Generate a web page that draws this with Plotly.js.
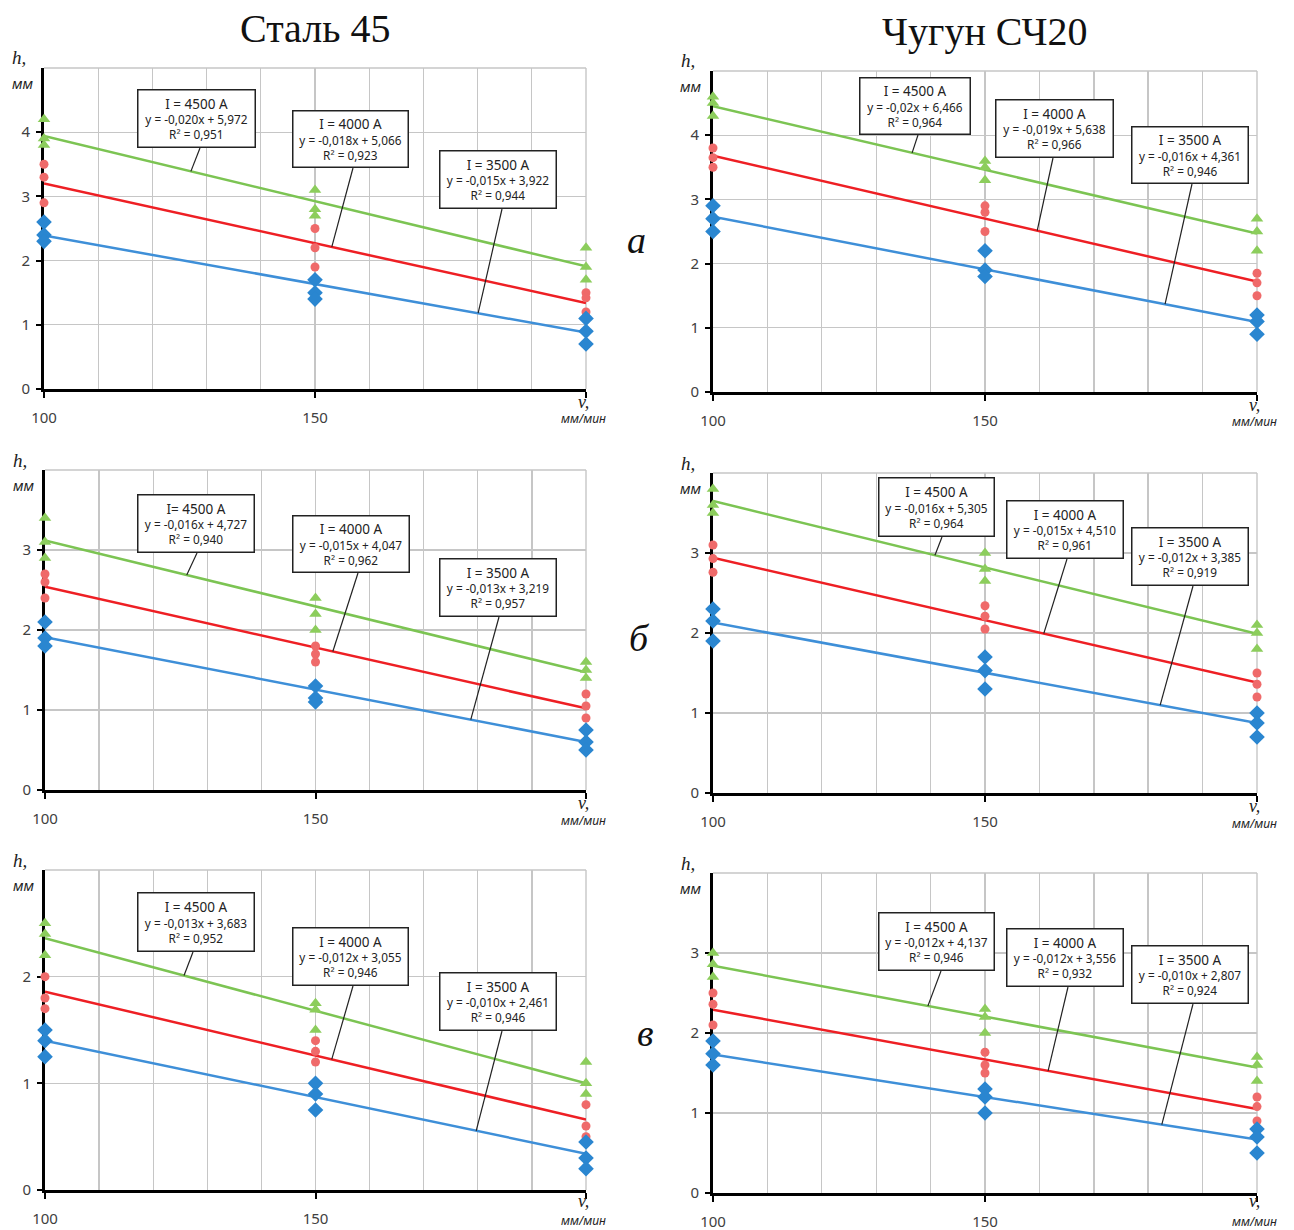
<!DOCTYPE html>
<html><head><meta charset="utf-8">
<script src="https://cdn.plot.ly/plotly-3.0.1.min.js"></script>
<style>html,body{margin:0;padding:0;background:#fff}#chart{width:1294px;height:1230px}</style>
</head><body><div id="chart"></div>
<script>
// ---------------- DATA ----------------
const xPts = [100,100,100,150,150,150,200,200,200];   // v, мм/мин
const trendX = [100, 200];
const currentLabels = ['I = 4500 A', 'I = 4000 A', 'I = 3500 A'];

// Сталь 45, а
const steelA_4500 = [4.2,3.9,3.8, 3.1,2.8,2.7, 2.2,1.9,1.7];
const steelA_4000 = [3.5,3.3,2.9, 2.5,2.2,1.9, 1.5,1.42,1.2];
const steelA_3500 = [2.6,2.4,2.3, 1.7,1.5,1.4, 1.1,0.9,0.7];
const steelA_trend = [[3.94,1.91],[3.20,1.34],[2.39,0.88]];
const steelA_eq = ['y = -0,020x + 5,972','y = -0,018x + 5,066','y = -0,015x + 3,922'];
const steelA_r2 = ['0,951','0,923','0,944'];

// Чугун СЧ20, а
const castA_4500 = [4.6,4.5,4.3, 3.6,3.5,3.3, 2.7,2.5,2.2];
const castA_4000 = [3.8,3.65,3.5, 2.9,2.8,2.5, 1.85,1.7,1.5];
const castA_3500 = [2.9,2.7,2.5, 2.2,1.9,1.8, 1.2,1.1,0.9];
const castA_trend = [[4.45,2.47],[3.68,1.72],[2.73,1.09]];
const castA_eq = ['y = -0,02x + 6,466','y = -0,019x + 5,638','y = -0,016x + 4,361'];
const castA_r2 = ['0,964','0,966','0,946'];

// Сталь 45, б
const steelB_4500 = [3.4,3.1,2.9, 2.4,2.2,2.0, 1.6,1.5,1.4];
const steelB_4000 = [2.7,2.6,2.4, 1.8,1.7,1.6, 1.2,1.05,0.9];
const steelB_3500 = [2.1,1.9,1.8, 1.3,1.15,1.1, 0.75,0.6,0.5];
const steelB_trend = [[3.12,1.47],[2.54,1.02],[1.91,0.60]];
const steelB_eq = ['y = -0,016x + 4,727','y = -0,015x + 4,047','y = -0,013x + 3,219'];
const steelB_r2 = ['0,940','0,962','0,957'];

// Чугун СЧ20, б
const castB_4500 = [3.8,3.6,3.5, 3.0,2.8,2.65, 2.1,2.0,1.8];
const castB_4000 = [3.1,2.93,2.76, 2.34,2.21,2.05, 1.5,1.36,1.2];
const castB_3500 = [2.3,2.15,1.9, 1.7,1.53,1.3, 1.0,0.875,0.7];
const castB_trend = [[3.65,1.99],[2.94,1.38],[2.13,0.875]];
const castB_eq = ['y = -0,016x + 5,305','y = -0,015x + 4,510','y = -0,012x + 3,385'];
const castB_r2 = ['0,964','0,961','0,919'];

// Сталь 45, в
const steelV_4500 = [2.5,2.4,2.2, 1.75,1.69,1.5, 1.2,1.0,0.9];
const steelV_4000 = [2.0,1.8,1.7, 1.4,1.3,1.2, 0.8,0.6,0.5];
const steelV_3500 = [1.5,1.4,1.25, 1.0,0.9,0.75, 0.45,0.3,0.2];
const steelV_trend = [[2.36,1.00],[1.86,0.66],[1.40,0.34]];
const steelV_eq = ['y = -0,013x + 3,683','y = -0,012x + 3,055','y = -0,010x + 2,461'];
const steelV_r2 = ['0,952','0,946','0,946'];

// Чугун СЧ20, в
const castV_4500 = [3.0,2.86,2.7, 2.3,2.2,2.0, 1.7,1.6,1.4];
const castV_4000 = [2.5,2.36,2.1, 1.76,1.6,1.5, 1.2,1.08,0.9];
const castV_3500 = [1.9,1.74,1.6, 1.3,1.2,1.0, 0.8,0.7,0.5];
const castV_trend = [[2.84,1.57],[2.29,1.05],[1.73,0.67]];
const castV_eq = ['y = -0,012x + 4,137','y = -0,012x + 3,556','y = -0,010x + 2,807'];
const castV_r2 = ['0,946','0,932','0,924'];

const yMax = [5, 5, 4, 4, 3, 4];

// ---------------- LAYOUT / STYLE ----------------
const W = 1294, H = 1230;
const lineColors = ['#7cc453', '#ee1f24', '#3e8fd8'];
const markColors = ['#8ccd5c', '#ef6a6a', '#2a86d0'];
const symbols = ['triangle-up', 'circle', 'diamond'];
const msizes = [11, 9, 12];
const gridColor = '#c6c6c6';
const numFont = '"Noto Sans", "Open Sans", sans-serif';
const serif = '"Liberation Serif", "DejaVu Serif", serif';

// panel pixel frames [left, top, right, bottom]
const frames = [[44,68,586,389],[713,71,1257,392],[45,470,586,790],[713,473,1257,793],[45,870,586,1190],[713,873,1257,1193]];
// annotation boxes [left, top, right, bottom]
const boxes = [
  [[137,89,256,148],[292,110,409,168],[439,150,557,209]],
  [[859,77,971,135],[995,99,1114,158],[1131,126,1249,184]],
  [[137,494,255,553],[292,515,410,573],[439,558,557,617]],
  [[878,477,995,537],[1006,500,1124,559],[1131,527,1249,586]],
  [[137,892,255,952],[292,927,409,986],[439,972,557,1031]],
  [[878,912,995,971],[1006,928,1124,987],[1131,945,1249,1004]]
];
// leader start x (px, at box bottom) and leader target on the trend line (x in data units)
const leadStart = [[200,353,502],[918,1053,1192],[197,358,499],[942,1067,1193],[193,353,502],[941,1068,1193]];
const leadTarget = [[127.1,153.1,180.1],[136.6,159.6,183.1],[126.2,153.2,178.7],[140.8,160.8,182.2],[125.7,153.0,179.7],[139.5,161.6,182.5]];

const panelSeries = [
  [steelA_4500, steelA_4000, steelA_3500],
  [castA_4500, castA_4000, castA_3500],
  [steelB_4500, steelB_4000, steelB_3500],
  [castB_4500, castB_4000, castB_3500],
  [steelV_4500, steelV_4000, steelV_3500],
  [castV_4500, castV_4000, castV_3500]
];
const panelTrends = [steelA_trend, castA_trend, steelB_trend, castB_trend, steelV_trend, castV_trend];
const panelEqs = [steelA_eq, castA_eq, steelB_eq, castB_eq, steelV_eq, castV_eq];
const panelR2 = [steelA_r2, castA_r2, steelB_r2, castB_r2, steelV_r2, castV_r2];

const traces = [];
const layout = {
  width: W, height: H, margin: {l:0, r:0, t:0, b:0},
  paper_bgcolor: '#fff', plot_bgcolor: '#fff', showlegend: false,
  annotations: [], shapes: []
};
const px2x = p => p / W, px2y = p => 1 - p / H;

frames.forEach((f, i) => {
  const n = i === 0 ? '' : String(i + 1);
  const xa = 'x' + n, ya = 'y' + n;
  const [l, t, r, b] = f;
  const ym = yMax[i];
  const yt = []; for (let k = 0; k < ym; k++) yt.push(k);
  layout['xaxis' + n] = {
    domain: [px2x(l), px2x(r)], anchor: ya, range: [100, 200],
    tickmode: 'array', tickvals: [100,150,200], ticktext: ['100','150',''],
    showline: true, linecolor: '#000', linewidth: 3,
    ticks: 'outside', ticklen: 6, tickwidth: 2, tickcolor: '#000',
    showgrid: true, gridcolor: gridColor, gridwidth: 1.4, zeroline: false,
    minor: {tickmode: 'linear', tick0: 100, dtick: 10, showgrid: true, gridcolor: gridColor, gridwidth: 1.4, ticks: ''},
    tickfont: {family: numFont, size: 15, color: '#404040'}, ticklabelstandoff: 7,
    layer: 'below traces', fixedrange: true
  };
  layout['yaxis' + n] = {
    domain: [px2y(b), px2y(t)], anchor: xa, range: [0, ym],
    tickmode: 'array', tickvals: yt,
    showline: true, linecolor: '#000', linewidth: 3,
    ticks: 'outside', ticklen: 5, tickwidth: 2, tickcolor: '#000',
    showgrid: true, gridcolor: gridColor, gridwidth: 1.4, zeroline: false,
    tickfont: {family: numFont, size: 15, color: '#404040'}, ticklabelstandoff: 3,
    layer: 'below traces', fixedrange: true
  };
  // frame top/right grid lines
  layout.shapes.push({type:'line', xref: xa + ' domain', yref: ya + ' domain', x0:0, x1:1, y0:1, y1:1, line:{color: gridColor, width: 1.4}, layer:'below'});
  layout.shapes.push({type:'line', xref: xa + ' domain', yref: ya + ' domain', x0:1, x1:1, y0:0, y1:1, line:{color: gridColor, width: 1.4}, layer:'below'});

  for (let s = 0; s < 3; s++) {
    traces.push({x: trendX, y: panelTrends[i][s], xaxis: xa, yaxis: ya, mode: 'lines',
      line: {color: lineColors[s], width: 2.5}, hoverinfo: 'skip', cliponaxis: false});
  }
  for (let s = 0; s < 3; s++) {
    traces.push({x: xPts, y: panelSeries[i][s], xaxis: xa, yaxis: ya, mode: 'markers',
      marker: {symbol: symbols[s], size: msizes[s], color: markColors[s]}, cliponaxis: false});
  }

  // equation boxes + leaders
  for (let s = 0; s < 3; s++) {
    const bx = boxes[i][s];
    const lbl = (i === 2 && s === 0) ? 'I= 4500 A' : currentLabels[s];
    layout.annotations.push({
      xref: 'paper', yref: 'paper', x: px2x((bx[0]+bx[2])/2), y: px2y((bx[1]+bx[3])/2),
      xanchor: 'center', yanchor: 'middle', showarrow: false,
      width: bx[2]-bx[0]-5, height: bx[3]-bx[1]-5, borderpad: 1, borderwidth: 1.5,
      bordercolor: '#222', bgcolor: '#fff',
      text: '<span style="font-size:13.5px">' + lbl + '</span><br>' + panelEqs[i][s] + '<br>R² = ' + panelR2[i][s],
      font: {family: numFont, size: 11.8, color: '#222'}
    });
    const tx = leadTarget[i][s];
    const tr = panelTrends[i][s];
    const ty = tr[0] + (tr[1]-tr[0]) * (tx - 100) / 100;
    const ex = l + (tx - 100) / 100 * (r - l);
    const ey = b - ty / ym * (b - t);
    layout.shapes.push({type:'line', xref:'paper', yref:'paper',
      x0: px2x(leadStart[i][s]), y0: px2y(bx[3]), x1: px2x(ex), y1: px2y(ey),
      line: {color: '#222', width: 1.2}});
  }

  // axis titles
  layout.annotations.push({xref:'paper', yref:'paper', x: px2x(l-25), y: px2y(t-10), xanchor:'center', yanchor:'middle', showarrow:false,
    text:'<i>h,</i>', font:{family: serif, size:19, color:'#222'}});
  layout.annotations.push({xref:'paper', yref:'paper', x: px2x(l-22), y: px2y(t+15), xanchor:'center', yanchor:'middle', showarrow:false,
    text:'<i>мм</i>', font:{family:numFont, size:14, color:'#222'}});
  layout.annotations.push({xref:'paper', yref:'paper', x: px2x(r-3), y: px2y(Math.min(b+13, 1201)), xanchor:'center', yanchor:'middle', showarrow:false,
    text:'<i>v,</i>', font:{family: serif, size:18, color:'#222'}});
  layout.annotations.push({xref:'paper', yref:'paper', x: px2x(r-3), y: px2y(Math.min(b+30, 1221)), xanchor:'center', yanchor:'middle', showarrow:false,
    text:'<i>мм/мин</i>', font:{family:numFont, size:12, color:'#222'}});
});

// column titles and row letters
const colTitles = [['Сталь 45', 315, 29], ['Чугун СЧ20', 985, 32]];
colTitles.forEach(c => layout.annotations.push({xref:'paper', yref:'paper', x: px2x(c[1]), y: px2y(c[2]), xanchor:'center', yanchor:'middle',
  showarrow:false, text:c[0], font:{family: serif, size:40, color:'#111'}}));
const rowLetters = [['а', 636, 240], ['б', 639, 638], ['в', 645, 1033]];
rowLetters.forEach(c => layout.annotations.push({xref:'paper', yref:'paper', x: px2x(c[1]), y: px2y(c[2]), xanchor:'center', yanchor:'middle',
  showarrow:false, text:'<i>' + c[0] + '</i>', font:{family: serif, size:38, color:'#111'}}));

Plotly.newPlot('chart', traces, layout, {staticPlot: true, displayModeBar: false});
</script></body></html>
